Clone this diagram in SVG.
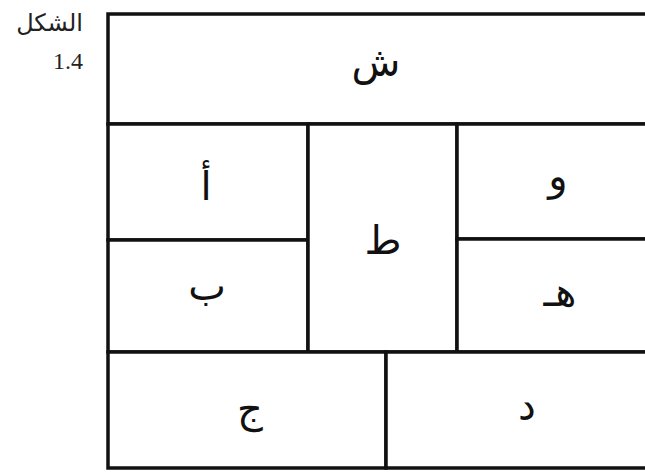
<svg xmlns="http://www.w3.org/2000/svg" width="645" height="474" viewBox="0 0 645 474">
<style>
.cell{fill:#fff;stroke:#111;stroke-width:3.5}
.lbl{font-family:"DejaVu Sans","Noto Sans",sans-serif;font-size:40px;fill:#111;text-anchor:middle}
.cap{font-family:"Liberation Serif","DejaVu Sans",serif;font-size:24px;fill:#222;text-anchor:end}
</style>
<rect width="645" height="474" fill="#fff"/>
<g id="caption">
<text class="cap" x="83" y="31">الشكل</text>
<text class="cap" x="83" y="69">1.4</text>
</g>
<g id="cell-shin"><rect class="cell" x="108" y="14" width="545" height="110"/><text class="lbl" x="376" y="76">ش</text></g>
<g id="cell-alif"><rect class="cell" x="108" y="124" width="200" height="116"/><text class="lbl" x="206" y="200">أ</text></g>
<g id="cell-ba"><rect class="cell" x="108" y="240" width="200" height="112"/><text class="lbl" x="207" y="300">ب</text></g>
<g id="cell-ta"><rect class="cell" x="308" y="124" width="149" height="228"/><text class="lbl" x="383" y="254">ط</text></g>
<g id="cell-waw"><rect class="cell" x="457" y="124" width="196" height="115"/><text class="lbl" x="558" y="190">و</text></g>
<g id="cell-ha"><rect class="cell" x="457" y="239" width="196" height="113"/><text class="lbl" x="560" y="306">هـ</text></g>
<g id="cell-jim"><rect class="cell" x="108" y="352" width="278" height="116"/><text class="lbl" x="250" y="422">ج</text></g>
<g id="cell-dal"><rect class="cell" x="386" y="352" width="267" height="116"/><text class="lbl" x="527" y="420">د</text></g>
<g id="connectors"></g>
</svg>
